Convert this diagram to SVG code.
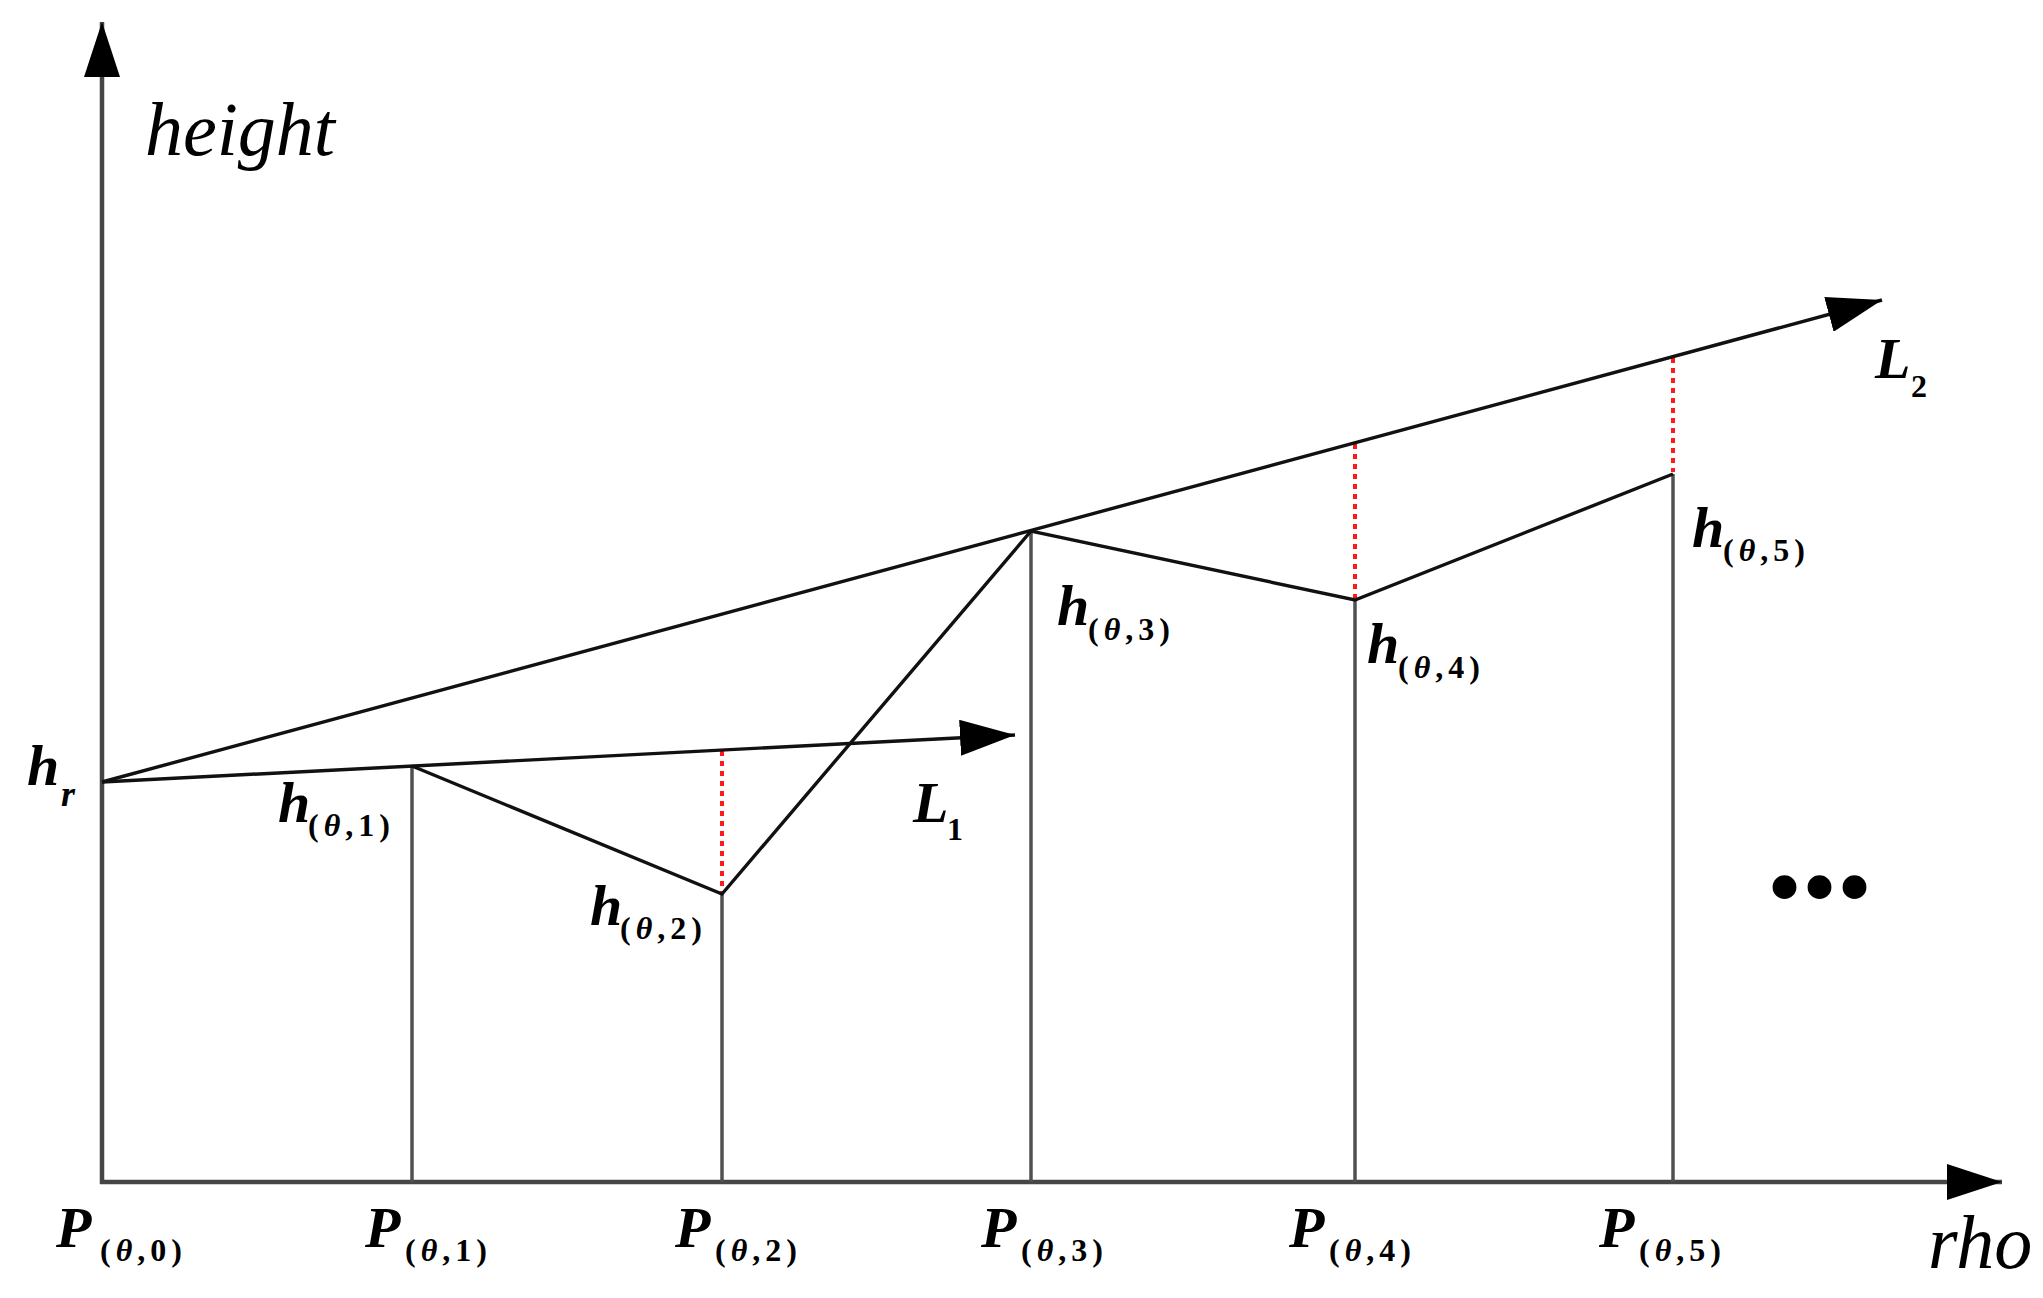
<svg xmlns="http://www.w3.org/2000/svg" width="2043" height="1298" viewBox="0 0 2043 1298">
<style>
.axis{stroke:#454545;stroke-width:4.5;fill:none}
.vert{stroke:#505050;stroke-width:3.5;fill:none}
.ln{stroke:#111;stroke-width:3.4;fill:none}
.red{stroke:#ff1a1a;stroke-width:4;stroke-dasharray:5 5;fill:none}
.lab{font-family:"Liberation Serif","Times New Roman",serif;font-weight:bold;font-style:italic;font-size:58px;fill:#000}
.sub{font-size:32px;font-style:normal;letter-spacing:5px}
.th{font-style:italic}
.ax{font-family:"Liberation Serif","Times New Roman",serif;font-style:italic;font-size:76px;fill:#000}
</style>
<defs>
<marker id="arr" markerUnits="userSpaceOnUse" viewBox="0 0 55 36" refX="55" refY="18" markerWidth="55" markerHeight="36" orient="auto">
<path d="M0,0 L55,18 L0,36 Z" fill="#000"/>
</marker>
</defs>
<rect width="2043" height="1298" fill="#fff"/>
<g id="connectors">
<line class="axis" x1="102" y1="1184" x2="102" y2="22" marker-end="url(#arr)"/>
<line class="axis" x1="100" y1="1182" x2="2002" y2="1182" marker-end="url(#arr)"/>
<line class="vert" x1="412" y1="766" x2="412" y2="1182"/>
<line class="vert" x1="722" y1="894" x2="722" y2="1182"/>
<line class="vert" x1="1031" y1="531" x2="1031" y2="1182"/>
<line class="vert" x1="1355" y1="600" x2="1355" y2="1182"/>
<line class="vert" x1="1673" y1="474" x2="1673" y2="1182"/>
<line class="red" x1="722" y1="751" x2="722" y2="892"/>
<line class="red" x1="1355" y1="444" x2="1355" y2="598"/>
<line class="red" x1="1673" y1="358" x2="1673" y2="472"/>
<line class="ln" x1="102" y1="782" x2="1015" y2="735" marker-end="url(#arr)"/>
<line class="ln" x1="102" y1="782" x2="1882" y2="300" marker-end="url(#arr)"/>
<polyline class="ln" points="412,766 722,894 1031,531 1355,600 1673,474"/>
</g>
<g id="axis-labels">
<text class="ax" x="145" y="155">height</text>
<text class="ax" x="1928" y="1268">rho</text>
</g>
<g id="node-hr"><text class="lab" x="27" y="785">h</text><text x="61" y="806" font-family="Liberation Serif, serif" font-style="italic" font-weight="bold" font-size="36" fill="#000">r</text></g>
<g id="node-h1"><text class="lab"><tspan x="278" y="822">h</tspan><tspan class="sub" x="308" y="836">(<tspan class="th">θ</tspan>,1)</tspan></text></g>
<g id="node-h2"><text class="lab"><tspan x="590" y="925">h</tspan><tspan class="sub" x="620" y="939">(<tspan class="th">θ</tspan>,2)</tspan></text></g>
<g id="node-h3"><text class="lab"><tspan x="1057" y="625">h</tspan><tspan class="sub" x="1088" y="640">(<tspan class="th">θ</tspan>,3)</tspan></text></g>
<g id="node-h4"><text class="lab"><tspan x="1367" y="663">h</tspan><tspan class="sub" x="1398" y="678">(<tspan class="th">θ</tspan>,4)</tspan></text></g>
<g id="node-h5"><text class="lab"><tspan x="1692" y="547">h</tspan><tspan class="sub" x="1723" y="561">(<tspan class="th">θ</tspan>,5)</tspan></text></g>
<g id="node-L1"><text class="lab"><tspan x="913" y="822">L</tspan><tspan x="947" y="840" font-size="32" font-style="normal">1</tspan></text></g>
<g id="node-L2"><text class="lab"><tspan x="1875" y="378">L</tspan><tspan x="1911" y="397" font-size="32" font-style="normal">2</tspan></text></g>
<g id="node-P0"><text class="lab"><tspan x="56" y="1247">P</tspan><tspan class="sub" x="100" y="1261">(<tspan class="th">θ</tspan>,0)</tspan></text></g>
<g id="node-P1"><text class="lab"><tspan x="365" y="1247">P</tspan><tspan class="sub" x="405" y="1261">(<tspan class="th">θ</tspan>,1)</tspan></text></g>
<g id="node-P2"><text class="lab"><tspan x="675" y="1247">P</tspan><tspan class="sub" x="715" y="1261">(<tspan class="th">θ</tspan>,2)</tspan></text></g>
<g id="node-P3"><text class="lab"><tspan x="981" y="1247">P</tspan><tspan class="sub" x="1021" y="1261">(<tspan class="th">θ</tspan>,3)</tspan></text></g>
<g id="node-P4"><text class="lab"><tspan x="1289" y="1247">P</tspan><tspan class="sub" x="1329" y="1261">(<tspan class="th">θ</tspan>,4)</tspan></text></g>
<g id="node-P5"><text class="lab"><tspan x="1599" y="1247">P</tspan><tspan class="sub" x="1639" y="1261">(<tspan class="th">θ</tspan>,5)</tspan></text></g>
<g id="ellipsis"><text x="1767" y="920" font-family="Liberation Serif, serif" font-size="100" fill="#000">•••</text></g>
</svg>
